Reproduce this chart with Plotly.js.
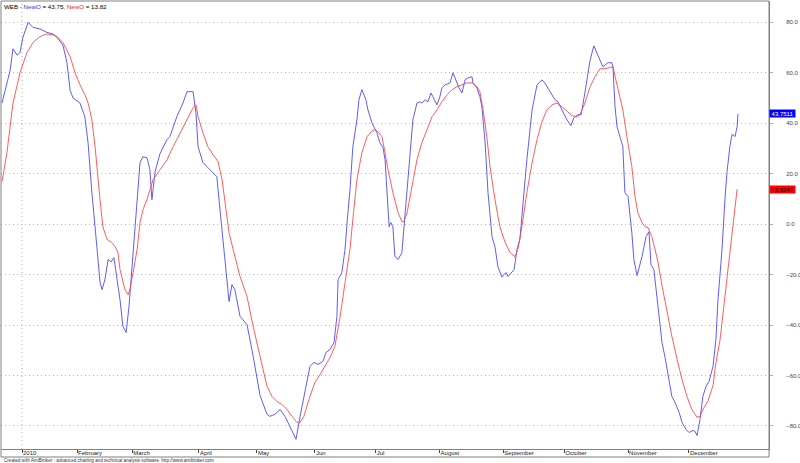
<!DOCTYPE html>
<html><head><meta charset="utf-8">
<script src="https://cdn.plot.ly/plotly-3.0.1.min.js"></script>
<style>html,body{margin:0;padding:0;background:#fff}#chart{width:800px;height:463px}</style>
</head><body><div id="chart"></div>
<script>
const ticker = "WEB";
const seriesName = "NewO";
const monthTickDays = [0,19,38,61,81,101,122,144,166,187,209,230];
const monthTickLabels = ["2010","February","March","April","May","Jun","Jul","August","September","October","November","December"];
const yTickVals = [-80,-60,-40,-20,0,20,40,60,80];
const fastLast = 43.7511;
const slowLast = 13.8241;
const footerText = "Created with AmiBroker - advanced charting and technical analysis software. http://www.amibroker.com";

// trading-day index (0 = first session of 2010)
const fastDays = [
-6.9,-4.1,-3.1,-1.7,-0.7,0.3,2.1,3.8,6.2,8.6,
10.7,12.1,14.1,15.5,16.6,17.6,20.0,21.7,22.8,24.1,
25.9,26.9,27.6,28.6,29.7,30.7,31.7,32.8,33.8,34.8,
35.9,36.9,37.9,39.0,39.7,40.7,41.7,43.1,44.1,44.8,
45.2,45.9,47.6,50.0,51.0,53.4,55.5,56.9,59.0,60.0,
60.7,62.4,64.1,65.5,67.2,67.6,69.0,70.0,70.7,71.4,
72.4,73.4,75.2,77.6,79.7,82.1,84.5,85.5,87.2,89.0,
90.7,92.4,94.5,95.9,97.6,99.3,100.7,102.1,103.8,104.8,
106.2,107.6,108.6,109.0,110.3,111.4,112.1,113.1,114.1,115.5,
116.2,117.2,118.6,119.3,120.7,122.4,123.4,124.5,125.2,125.9,
126.6,127.2,127.9,128.6,129.7,131.0,131.7,132.8,133.8,134.8,
136.2,137.2,137.9,139.0,140.0,141.0,141.7,143.1,144.1,144.8,
145.9,147.6,148.6,149.7,150.7,151.7,152.8,153.8,155.2,155.5,
156.9,157.9,158.6,159.7,160.7,162.1,163.1,164.1,165.5,166.2,
166.9,167.6,169.0,169.7,170.7,171.7,172.8,174.1,175.9,177.6,
179.3,180.3,182.1,183.8,184.8,186.2,187.9,189.3,190.3,191.7,
192.8,194.1,195.9,197.2,199.3,200.3,202.1,203.4,203.8,204.5,
205.2,206.2,207.2,207.9,209.0,209.7,210.3,211.0,212.1,213.8,
215.2,216.2,216.9,217.9,219.0,220.7,221.7,222.8,224.1,225.2,
226.6,227.6,229.0,230.0,231.4,232.1,232.8,233.8,234.8,235.9,
236.9,238.3,239.3,240.0,241.4,242.4,243.1,244.1,244.8,245.2,
245.9,246.6,246.9];
const fastValues = [
48,61,69.5,67,68,74,80,78,77.4,76,
75.4,74,71,64,53,50,48,42.5,32,12.5,
-10,-23,-26,-22,-14,-15,-13.3,-22,-30,-40.5,
-43,-32.6,-16.8,-1,9.7,24.4,26.7,26.3,21.6,9.7,
13.7,20.8,28,33.5,34.7,42.6,48,52.5,52.5,44,
30.7,24.4,22.4,20.8,18.8,13.7,-2,-12.8,-20.8,-30.7,
-24,-26,-36.6,-39.8,-52.3,-68,-75.4,-76.2,-75.4,-73.5,
-76.2,-80.2,-85.3,-76.2,-65.5,-56.4,-54.8,-55.6,-54.4,-50.9,
-49.7,-47,-36.6,-22,-19.2,-10,0.6,13.7,30.7,41.4,
49.3,53.3,49.3,45.3,40,36.2,32.3,30.3,25.5,12.5,
-1,0.6,-1,-12.9,-14,-11.3,-1,12.5,28.3,41.4,
48,48.5,48,49.3,48.5,52,50.5,47.3,50.5,54,
55.2,56,60,56.4,54,52,57.2,58,58.4,56,
54,50.5,46.5,32.3,12.5,-5,-8.9,-16.8,-21,-20,
-19.2,-20.8,-18.8,-18,-10,-6,8.5,25.5,45.3,55.2,
57.2,56,52.5,49.3,48.5,45.3,41.4,39,42.2,43.4,
43.4,52,65,70.7,65,62.4,64,64,62,46.5,
38.6,34.7,30.7,12.5,10.9,3,-3.4,-14,-20.4,-12.9,
-5,-3,-16,-18,-30,-47,-52.5,-60.4,-68.3,-70.7,
-74.6,-78.6,-81.4,-82.6,-81.8,-82.2,-83.8,-77.4,-68.3,-64.3,
-62.4,-56.4,-45.7,-30,-10.1,9.7,20.4,30.7,35.4,35.4,
34.7,38.6,43.75];

const slowDays = [
-6.9,-5.2,-3.1,-0.7,1.7,3.8,6.2,8.6,10.7,12.1,
14.1,16.6,18.3,20.0,21.7,22.8,24.1,25.2,26.9,27.9,
29.3,31.0,32.1,33.1,33.8,35.5,36.6,37.2,38.3,39.7,
40.7,41.7,43.1,44.1,45.2,47.6,50.0,52.1,54.5,56.9,
59.0,60.0,60.7,62.4,64.1,65.9,67.6,69.0,70.0,71.4,
72.8,75.2,77.6,79.7,82.1,84.5,86.2,87.9,89.7,91.4,
93.1,94.8,95.9,97.2,99.3,101.0,102.8,104.5,106.2,107.9,
109.7,111.4,113.1,114.1,115.5,117.2,119.0,120.7,121.7,122.8,
124.1,124.8,126.2,127.9,129.7,131.0,131.7,132.8,134.5,136.2,
137.9,139.7,141.4,143.1,144.8,146.6,148.3,150.0,151.7,153.4,
155.2,156.9,157.9,159.0,160.3,161.4,163.1,164.8,166.6,168.3,
170.0,171.0,172.4,174.1,175.9,177.6,179.3,181.0,182.8,184.5,
186.2,187.9,189.7,191.4,192.4,194.1,195.9,197.6,199.3,201.0,
202.8,203.8,204.8,205.9,207.2,208.6,210.3,211.4,212.4,213.8,
214.8,215.9,217.2,218.3,219.3,220.7,222.4,224.1,225.9,227.6,
229.3,231.0,232.8,233.8,234.8,236.6,238.3,239.3,240.7,241.7,
243.4,245.2,245.9,246.6];
const slowValues = [
16.8,28.3,48,60,68,72,74.4,75.4,75,74.4,
72,66.4,60,55.2,51.3,48,41.4,30.7,9.7,-1,
-6,-7.3,-8.9,-11.3,-18,-26,-28,-26,-19.2,-10,
0.6,5.7,9.7,13.7,17.6,21.6,25.5,30.7,36.2,41.4,
46.1,47.3,42.6,36.2,30.7,27.5,24.8,17.6,8.5,-3.4,
-10,-20.8,-28.7,-40.5,-52.5,-64.3,-68.3,-70.3,-71.5,-73.5,
-76.2,-78.6,-78.6,-76.2,-68.3,-62.8,-59.6,-56.4,-52.9,-48.5,
-36.6,-23.2,-10,2,17.6,28.3,34.7,37,37.4,36.6,
34.7,30.7,21.6,12.5,4.5,1,1,4.5,14.9,25.5,
32.3,37.4,42.6,45.3,48.5,51.3,53.3,54.5,55.2,56,
56,54.5,52.5,45.3,34.7,22.8,9.7,-1,-7.3,-11.3,
-12.9,-10,-1,12.5,24.4,33.5,40.6,45.3,47.3,48,
46.5,44.6,43,42.6,43.4,48,54.5,58.4,61.6,61.6,
62,62.4,57.2,52,45.3,34.7,22.8,10.9,4.5,0.6,
-1,-1.4,-5,-10,-15,-24.4,-35,-44.4,-53.6,-61.6,
-68.3,-73.5,-76.6,-76.2,-73.5,-70,-64,-55,-46,-36,
-18,0,6,13.82];

const fastColor = '#4a4aff';
const slowColor = '#ff4a4a';
const font = 'Liberation Sans, Arial, sans-serif';

const traces = [
  {x: fastDays, y: fastValues, type: 'scatter', mode: 'lines', line: {color: fastColor, width: 0.9}, name: seriesName},
  {x: slowDays, y: slowValues, type: 'scatter', mode: 'lines', line: {color: slowColor, width: 0.9}, name: seriesName}
];

const stripDepth = 8; // px of the date strip below the plot
const plotH = 463 - 1 - 14;

const layout = {
  width: 800, height: 463,
  margin: {l: 1, r: 31, t: 1, b: 14, pad: 0},
  paper_bgcolor: '#ffffff', plot_bgcolor: '#ffffff',
  showlegend: false,
  font: {family: font, size: 6, color: '#333'},
  xaxis: {
    range: [-7.24, 257.6], tickmode: 'array', tickvals: monthTickDays, ticktext: monthTickLabels,
    ticks: 'outside', ticklen: 3, tickcolor: '#444', tickwidth: 1,
    ticklabelposition: 'outside right', ticklabelstandoff: -2,
    showgrid: false, zeroline: false, showline: true, linecolor: '#808080', linewidth: 1,
    tickfont: {family: font, size: 6, color: '#222'}
  },
  yaxis: {
    side: 'right', range: [-89.15, 88.46], tickmode: 'array', tickvals: yTickVals, tickformat: '.1f',
    ticks: 'outside', ticklen: 3, tickcolor: '#aaa',
    showgrid: true, gridcolor: '#b8b8b8', griddash: '1px,3px', gridwidth: 1,
    zeroline: false, showline: true, linecolor: '#808080', linewidth: 1,
    ticklabelstandoff: 12,
    tickfont: {family: font, size: 6, color: '#444'}
  },
  shapes: [
    {type: 'rect', xref: 'paper', yref: 'paper', x0: 0, x1: 1, y0: -stripDepth / plotH, y1: 1,
     line: {color: '#808080', width: 1}, layer: 'above'},
    {type: 'line', xref: 'x', yref: 'paper', x0: monthTickDays[0], x1: monthTickDays[0], y0: 0, y1: 1,
     line: {color: '#b0b0b0', width: 1, dash: '1px,3px'}, layer: 'below'}
  ],
  annotations: [
    {xref: 'paper', yref: 'paper', x: 0, y: 1, xshift: 1, yshift: 0, xanchor: 'left', yanchor: 'top', showarrow: false,
     font: {family: font, size: 6.2, color: '#000'},
     text: ticker + ' - <span style="color:#3030ff">' + seriesName + '</span> = ' + fastLast.toFixed(2) +
           ', <span style="color:#ff2020">' + seriesName + '</span> = ' + slowLast.toFixed(2)},
    {xref: 'paper', yref: 'y', x: 1, y: fastLast, xanchor: 'left', yanchor: 'middle', showarrow: false,
     text: fastLast.toFixed(4), bgcolor: '#0000ff', font: {family: font, size: 6, color: '#fff'},
     width: 25, height: 7, borderpad: 0, align: 'center'},
    {xref: 'paper', yref: 'y', x: 1, y: slowLast, xanchor: 'left', yanchor: 'middle', showarrow: false,
     text: slowLast.toFixed(4), bgcolor: '#ff0000', font: {family: font, size: 6, color: '#000'},
     width: 25, height: 7, borderpad: 0, align: 'center'},
    {xref: 'paper', yref: 'paper', x: 0, y: -11 / plotH, xshift: 1, xanchor: 'left', yanchor: 'middle', showarrow: false,
     text: footerText, font: {family: font, size: 4.6, color: '#333'}}
  ]
};

Plotly.newPlot('chart', traces, layout, {staticPlot: true, displayModeBar: false});
</script>
</body></html>
